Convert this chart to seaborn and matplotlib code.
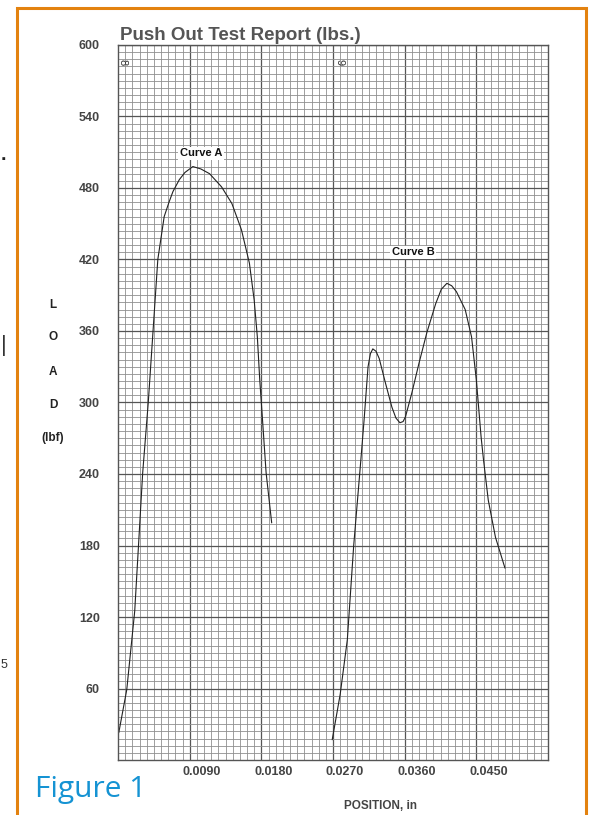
import numpy as np
import matplotlib
matplotlib.use('Agg')
import matplotlib.pyplot as plt
import matplotlib.transforms as mtransforms
from matplotlib.patches import Rectangle
import seaborn as sns

# curve readings (position in inches, load in lbf)
a_pos = [0.0001, 0.0011, 0.0021, 0.0031, 0.0038, 0.0043, 0.0050, 0.0058, 0.0064, 0.0069,
         0.0077, 0.0084, 0.0094, 0.0104, 0.0115, 0.0130, 0.0143, 0.0155, 0.0165, 0.0171,
         0.0175, 0.0178, 0.0180, 0.0186, 0.0193]
a_load = [23, 59, 125, 241, 300, 350, 420, 456, 468, 477,
          487, 493, 498, 496, 492, 481, 467, 445, 417, 386,
          355, 319, 300, 241, 199]

b_pos = [0.0269, 0.0279, 0.0288, 0.0296, 0.0305, 0.0309, 0.0314, 0.0317, 0.0320, 0.0324,
         0.0328, 0.0336, 0.0344, 0.0349, 0.0354, 0.0358, 0.0361, 0.0369, 0.0378, 0.0388,
         0.0399, 0.0406, 0.0413, 0.0419, 0.0425, 0.0436, 0.0444, 0.0450, 0.0456, 0.0459,
         0.0465, 0.0474, 0.0486]
b_load = [17, 55, 101, 180, 252, 285, 330, 341, 345, 343,
          337, 316, 296, 287, 283, 284, 288, 308, 333, 359,
          383, 395, 400, 398, 393, 378, 355, 319, 271, 252,
          218, 187, 161]

x_ticks = [0.009, 0.018, 0.027, 0.036, 0.045]
x_tick_labels = ['0.0090', '0.0180', '0.0270', '0.0360', '0.0450']
y_ticks = [60, 120, 180, 240, 300, 360, 420, 480, 540, 600]

sns.set_style('white')
plt.rcParams['font.family'] = ['Liberation Sans', 'DejaVu Sans']

fig = plt.figure(figsize=(5.91, 8.15), dpi=100)
ax = fig.add_axes([118 / 591, 1 - 760 / 815, 430 / 591, 715 / 815])

# graph paper grid
ax.set_xlim(0, 0.054)
ax.set_ylim(0, 600)
ax.set_xticks(np.arange(0, 0.0541, 0.0009), minor=True)
ax.set_yticks(np.arange(0, 601, 6), minor=True)
ax.set_xticks(x_ticks)
ax.set_xticklabels(x_tick_labels)
ax.set_yticks(y_ticks)
ax.grid(which='minor', color='#8f8f8f', lw=0.6)
ax.grid(which='major', color='#555555', lw=0.9)
ax.set_axisbelow(True)
for s in ax.spines.values():
    s.set_color('#555555')
    s.set_linewidth(1.0)

sns.lineplot(x=a_pos, y=a_load, sort=False, estimator=None, color='#222222', lw=0.8, ax=ax)
sns.lineplot(x=b_pos, y=b_load, sort=False, estimator=None, color='#222222', lw=0.8, ax=ax)

ax.text(0.0104, 509, 'Curve A', ha='center', va='center', fontsize=8, fontweight='bold',
        color='#111111', bbox=dict(facecolor='white', edgecolor='none', pad=1.2))
ax.text(0.0371, 426, 'Curve B', ha='center', va='center', fontsize=8, fontweight='bold',
        color='#111111', bbox=dict(facecolor='white', edgecolor='none', pad=1.2))

ax.tick_params(axis='both', which='both', length=0)
ax.tick_params(axis='y', pad=13, labelsize=9, labelcolor='#444444')
ax.tick_params(axis='x', pad=4, labelsize=9, labelcolor='#444444')
for lab in ax.get_yticklabels() + ax.get_xticklabels():
    lab.set_fontweight('bold')
offset = mtransforms.ScaledTranslation(0.12, 0, fig.dpi_scale_trans)
for lab in ax.get_xticklabels():
    lab.set_transform(lab.get_transform() + offset)
ax.set_xlabel('')
ax.set_ylabel('')

# small chart-paper page numbers
ax.text(0.0006, 586, '8', rotation=-90, fontsize=8, ha='center', va='center', color='#333333')
ax.text(0.0278, 586, '9', rotation=-90, fontsize=8, ha='center', va='center', color='#333333')

# titles and labels
fig.text(120 / 591, 1 - 35 / 815, 'Push Out Test Report (lbs.)', ha='left', va='center',
         fontsize=13.5, fontweight='bold', color='#555555')
fig.text(381 / 591, 1 - 806 / 815, 'POSITION, in', ha='center', va='center',
         fontsize=8.5, fontweight='bold', color='#444444')
for ch, py in zip(['L', 'O', 'A', 'D', '(lbf)'], [305, 337, 372, 405, 438]):
    fig.text(53 / 591, 1 - py / 815, ch, ha='center', va='center', fontsize=8.5,
             fontweight='bold', color='#222222')

fig.text(35 / 591, 1 - 789 / 815, 'Figure 1', ha='left', va='center', fontsize=21.5,
         color='#1593d3', family=['Open Sans', 'DejaVu Sans'])

# orange frame
fig.patches.append(Rectangle((17 / 591, -0.05), (586 - 17) / 591, 1.05 - 8 / 815,
                             transform=fig.transFigure, fill=False, edgecolor='#e3820f',
                             lw=2.2, zorder=0))

# fragments of neighbouring page text at the left edge
fig.text(1 / 591, 1 - 155 / 815, '.', ha='left', va='center', fontsize=14,
         fontweight='bold', color='#222222')
fig.text(1 / 591, 1 - 345 / 815, '|', ha='left', va='center', fontsize=16, color='#333333')
fig.text(1 / 591, 1 - 665 / 815, '5', ha='left', va='center', fontsize=9, color='#333333')

fig.savefig('out.png', dpi=100)
